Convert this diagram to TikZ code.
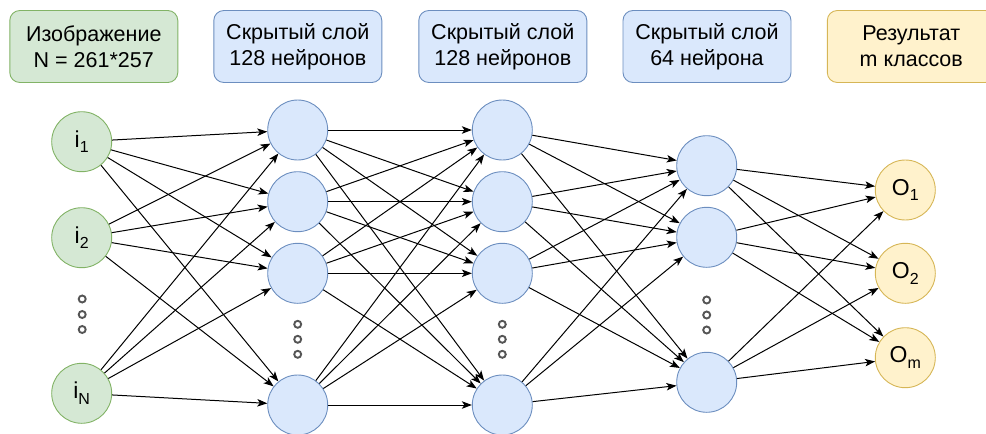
\documentclass[tikz,border=0pt]{standalone}
\usepackage{fontspec}
\setmainfont{Liberation Sans}
\usetikzlibrary{arrows.meta}
\definecolor{gfill}{HTML}{D5E8D4}
\definecolor{gline}{HTML}{82B366}
\definecolor{bfill}{HTML}{DAE8FC}
\definecolor{bline}{HTML}{6C8EBF}
\definecolor{yfill}{HTML}{FFF2CC}
\definecolor{yline}{HTML}{D6B656}
\definecolor{dotgray}{HTML}{555555}
\newcommand{\mysub}[1]{\raisebox{-5.5pt}{\fontsize{16}{16}\selectfont #1}}
\begin{document}
\begin{tikzpicture}[x=1pt,y=-1pt,
  hdr/.style={draw, rounded corners=10pt, minimum width=168pt, minimum height=72pt,
    align=center, inner sep=0pt, line width=0.9pt, font=\fontsize{21.5}{25.8}\selectfont},
  neuron/.style={circle, draw, minimum size=60pt, inner sep=0pt, line width=0.9pt,
    font=\fontsize{23}{23}\selectfont},
  inn/.style={neuron, fill=gfill, draw=gline},
  hid/.style={neuron, fill=bfill, draw=bline},
  outn/.style={neuron, fill=yfill, draw=yline},
  dotc/.style={circle, draw=dotgray, fill=white, line width=1.9pt, minimum size=7pt, inner sep=0pt},
  arr/.style={line width=1pt, -{Stealth[length=10pt,width=7.5pt,inset=2.5pt]}}]
\useasboundingbox (0,0) rectangle (986,434);
\clip (0,0) rectangle (986,434);

% header boxes
\node[hdr, fill=gfill, draw=gline] (h0) at (93.8,46.5) {Изображение\\N = 261*257};
\node[hdr, fill=bfill, draw=bline] (h1) at (297.8,46.5) {Скрытый слой\\128 нейронов};
\node[hdr, fill=bfill, draw=bline] (h2) at (502.8,46.5) {Скрытый слой\\128 нейронов};
\node[hdr, fill=bfill, draw=bline] (h3) at (707,46.5) {Скрытый слой\\64 нейрона};
\node[hdr, fill=yfill, draw=yline] (h4) at (911.3,46.5) {Результат\\m классов};

% input layer
\node[inn] (in1) at (81.7,141.7) {i\mysub{1}};
\node[inn] (in2) at (81.7,237.7) {i\mysub{2}};
\node[inn] (inN) at (81.7,393.3) {i\mysub{N}};
\node[dotc] (d01) at (82.2,299) {};
\node[dotc] (d02) at (82.2,314.5) {};
\node[dotc] (d03) at (82.2,329.5) {};

% hidden 1
\node[hid] (a1) at (297.7,130) {};
\node[hid] (a2) at (297.7,201.7) {};
\node[hid] (a3) at (297.7,273.3) {};
\node[hid] (a4) at (297.7,405) {};
\node[dotc] (d11) at (297.7,324.3) {};
\node[dotc] (d12) at (297.7,339.3) {};
\node[dotc] (d13) at (297.7,354.3) {};

% hidden 2
\node[hid] (b1) at (502.3,130) {};
\node[hid] (b2) at (502.3,201.7) {};
\node[hid] (b3) at (502.3,273.3) {};
\node[hid] (b4) at (502.3,405) {};
\node[dotc] (d21) at (502.3,324.3) {};
\node[dotc] (d22) at (502.3,339.3) {};
\node[dotc] (d23) at (502.3,354.3) {};

% hidden 3
\node[hid] (c1) at (706.7,165.7) {};
\node[hid] (c2) at (706.7,237.3) {};
\node[hid] (c3) at (706.7,382.3) {};
\node[dotc] (d31) at (706.7,300) {};
\node[dotc] (d32) at (706.7,315) {};
\node[dotc] (d33) at (706.7,330) {};

% output
\node[outn] (o1) at (905.3,190) {O\mysub{1}};
\node[outn] (o2) at (905.3,273.3) {O\mysub{2}};
\node[outn] (o3) at (905.3,357.7) {O\mysub{m}};

% connectors
\foreach \s in {in1,in2,inN} \foreach \t in {a1,a2,a3,a4} \draw[arr] (\s) -- (\t);
\foreach \s in {a1,a2,a3,a4} \foreach \t in {b1,b2,b3,b4} \draw[arr] (\s) -- (\t);
\foreach \s in {b1,b2,b3,b4} \foreach \t in {c1,c2,c3} \draw[arr] (\s) -- (\t);
\foreach \s in {c1,c2,c3} \foreach \t in {o1,o2,o3} \draw[arr] (\s) -- (\t);
\end{tikzpicture}
\end{document}
